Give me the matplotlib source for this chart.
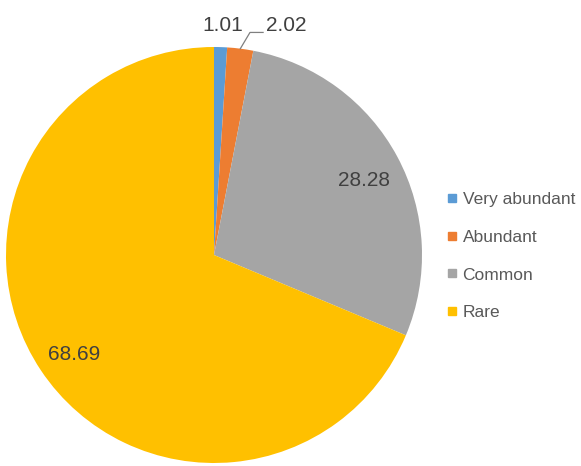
import numpy as np
import matplotlib.pyplot as plt
from matplotlib.lines import Line2D

categories = ["Very abundant", "Abundant", "Common", "Rare"]
values = [1.01, 2.02, 28.28, 68.69]
colors = ["#5B9BD5", "#ED7D31", "#A5A5A5", "#FFC000"]

plt.rcParams["font.family"] = ["Liberation Sans", "DejaVu Sans"]

W, H = 581, 466
fig = plt.figure(figsize=(W / 100, H / 100), dpi=100)

# pie centre and radius in pixels
cx, cy, r = 214, 255, 208
ax = fig.add_axes([(cx - r) / W, (H - cy - r) / H, 2 * r / W, 2 * r / H])

wedges, _ = ax.pie(values, colors=colors, startangle=90, counterclock=False,
                   radius=1, center=(0, 0), frame=False)
ax.set_xlim(-1, 1)
ax.set_ylim(-1, 1)
ax.set_aspect("equal")
ax.axis("off")

label_color = "#404040"
fs = 15

# large slices: labels inside
for w, v, d in zip(wedges[2:], values[2:], [0.82, 0.81]):
    mid = np.deg2rad((w.theta1 + w.theta2) / 2)
    ax.text(d * np.cos(mid), d * np.sin(mid) - 0.03, f"{v:.2f}", ha="center",
            va="center", fontsize=fs, color=label_color)

# small slices: labels above the pie
ax.text(0.04, 1.105, f"{values[0]:.2f}", ha="center", va="center",
        fontsize=fs, color=label_color, clip_on=False)
ax.text(0.346, 1.105, f"{values[1]:.2f}", ha="center", va="center",
        fontsize=fs, color=label_color, clip_on=False)
w = wedges[1]
mid = np.deg2rad((w.theta1 + w.theta2) / 2)
ax.plot([np.cos(mid), 0.173, 0.236], [np.sin(mid), 1.07, 1.07],
        color="#7F7F7F", lw=0.9, clip_on=False)

handles = [Line2D([], [], marker="s", linestyle="none", markersize=6,
                  markerfacecolor=c, markeredgecolor=c) for c in colors]
leg = fig.legend(handles, categories, loc="upper left",
                 bbox_to_anchor=(440 / W, 1 - 185 / H), frameon=False,
                 fontsize=12.5, labelspacing=1.3, handlelength=0.6,
                 handletextpad=0.3, borderaxespad=0)
for t in leg.get_texts():
    t.set_color("#595959")

fig.savefig("out.png", dpi=100)
